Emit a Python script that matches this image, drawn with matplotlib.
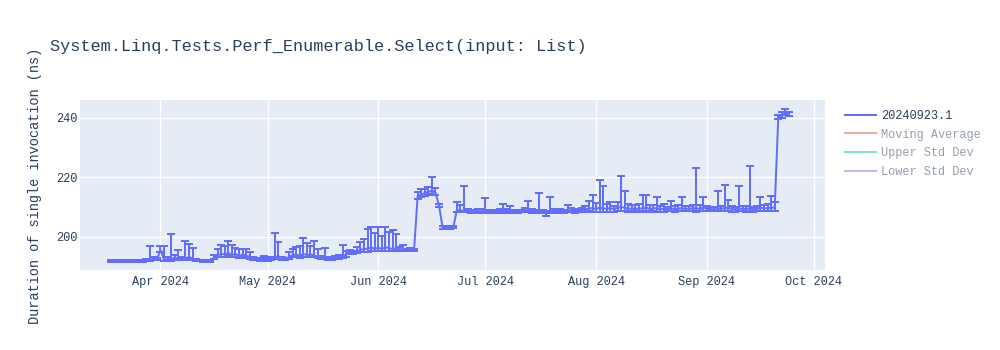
import numpy as np
import pandas as pd
import matplotlib
matplotlib.use("Agg")
import matplotlib.pyplot as plt
import matplotlib.dates as mdates
from matplotlib.lines import Line2D

# benchmark run, one point per day starting at first_day
first_day = "2024-03-18"
duration = [191.8, 191.9, 191.8, 191.7, 191.9, 191.8, 191.9, 192.0, 191.8, 191.9,
            192.0, 192.2, 192.6, 192.3, 195.5, 192.2, 192.5, 192.4, 193.0, 192.6,
            192.5, 192.7, 193.2, 192.6, 192.1, 192.0, 191.9, 192.0, 191.8, 193.0,
            193.8, 194.2, 194.0, 194.5, 193.8, 194.2, 193.5, 194.0, 193.6, 193.2,
            192.5, 192.3, 192.2, 192.4, 192.3, 192.5, 193.0, 193.5, 192.6, 192.5,
            193.2, 193.8, 194.0, 193.5, 194.2, 193.8, 194.0, 193.7, 193.3, 192.8,
            193.0, 192.7, 192.6, 192.8, 193.0, 193.5, 194.0, 194.8, 194.6, 195.0,
            195.6, 195.8, 196.0, 196.4, 195.9, 196.3, 195.8, 196.5, 196.1, 195.9,
            196.0, 195.6, 195.8, 195.5, 195.6, 195.4, 213.5, 214.2, 214.6, 215.0,
            215.5, 214.8, 210.5, 203.0, 202.9, 203.0, 203.2, 209.0, 208.8, 208.7,
            208.6, 208.5, 208.4, 208.6, 208.5, 208.7, 208.5, 208.4, 208.5, 208.6,
            208.8, 208.5, 208.7, 208.4, 208.5, 208.6, 208.7, 209.0, 208.6, 208.5,
            208.6, 208.4, 208.0, 208.5, 208.6, 208.5, 208.7, 208.5, 208.9, 208.7,
            208.6, 208.8, 208.9, 209.2, 209.5, 209.6, 209.3, 209.8, 209.5, 209.4,
            209.6, 209.2, 209.8, 210.0, 209.7, 209.4, 209.5, 209.3, 209.6, 209.4,
            209.8, 209.3, 209.5, 209.6, 209.2, 209.4, 209.3, 209.5, 209.2, 209.4,
            209.6, 209.3, 209.5, 209.4, 209.6, 209.3, 209.8, 209.4, 209.3, 209.2,
            209.5, 209.4, 209.6, 209.8, 209.3, 209.2, 209.5, 209.4, 209.3, 209.6,
            209.2, 209.4, 209.8, 209.5, 209.6, 209.8, 209.7, 240.2, 240.8, 241.5,
            241.2]
err_up = [0.3, 0.3, 0.3, 0.3, 0.3, 0.3, 0.3, 0.3, 0.3, 0.3,
          0.4, 4.8, 0.6, 0.5, 1.2, 4.8, 0.6, 8.4, 1.0, 2.9,
          0.5, 6.0, 4.3, 3.7, 0.3, 0.3, 0.3, 0.3, 0.3, 1.0,
          2.2, 3.0, 2.8, 4.2, 3.5, 2.0, 2.5, 1.8, 2.2, 1.5,
          0.5, 0.4, 0.5, 1.0, 0.6, 0.5, 8.4, 4.8, 0.4, 0.4,
          1.5, 2.0, 2.5, 3.5, 5.5, 4.0, 3.0, 5.0, 2.5, 0.8,
          3.3, 0.5, 0.4, 0.6, 0.8, 3.8, 1.2, 0.6, 0.5, 1.5,
          2.5, 3.5, 6.5, 6.8, 5.5, 6.9, 4.5, 6.9, 5.5, 6.5,
          5.0, 1.0, 1.5, 0.5, 0.5, 0.4, 1.5, 1.8, 1.5, 1.8,
          4.5, 1.5, 0.6, 0.5, 0.4, 0.5, 0.5, 2.5, 2.0, 8.2,
          0.6, 0.5, 0.5, 0.6, 0.8, 4.3, 0.6, 0.5, 0.5, 0.8,
          2.3, 0.7, 1.7, 0.5, 0.6, 0.5, 1.0, 3.1, 0.8, 0.5,
          6.2, 0.5, 0.5, 4.7, 0.6, 0.5, 0.7, 0.6, 1.9, 0.8,
          0.7, 0.6, 0.8, 1.2, 2.5, 4.5, 2.0, 9.3, 7.6, 1.5,
          2.0, 1.2, 1.7, 10.4, 5.8, 1.5, 1.0, 1.2, 1.5, 4.6,
          4.3, 1.2, 1.0, 3.8, 1.0, 1.5, 0.8, 2.6, 1.0, 1.2,
          3.6, 1.0, 0.8, 1.2, 13.5, 1.5, 3.6, 1.0, 0.8, 0.7,
          6.0, 1.0, 7.8, 2.5, 1.0, 0.8, 7.4, 0.8, 1.0, 14.0,
          0.8, 1.0, 3.6, 1.2, 1.5, 4.0, 1.8, 0.8, 1.0, 1.4,
          0.8]
err_down = [0.3, 0.3, 0.3, 0.3, 0.3, 0.3, 0.3, 0.3, 0.3, 0.3,
            0.3, 0.4, 0.5, 0.3, 0.8, 0.4, 0.4, 0.5, 0.6, 0.4,
            0.4, 0.5, 0.6, 0.4, 0.3, 0.3, 0.3, 0.3, 0.3, 0.5,
            0.8, 1.0, 0.9, 1.1, 0.7, 0.9, 0.6, 0.8, 0.7, 0.6,
            0.4, 0.3, 0.3, 0.5, 0.4, 0.4, 0.6, 0.7, 0.4, 0.3,
            0.6, 0.8, 0.9, 0.7, 1.0, 0.8, 0.9, 0.7, 0.6, 0.4,
            0.5, 0.4, 0.3, 0.4, 0.5, 0.6, 0.7, 0.5, 0.4, 0.6,
            0.8, 0.9, 1.0, 1.2, 0.8, 1.1, 0.7, 1.2, 0.9, 0.8,
            0.8, 0.4, 0.5, 0.3, 0.4, 0.3, 0.8, 1.0, 0.9, 1.1,
            1.0, 0.8, 0.5, 0.4, 0.3, 0.4, 0.4, 0.8, 0.6, 0.5,
            0.4, 0.4, 0.3, 0.4, 0.5, 0.6, 0.4, 0.3, 0.4, 0.5,
            0.6, 0.4, 0.5, 0.4, 0.4, 0.3, 0.5, 0.7, 0.5, 0.4,
            0.5, 0.4, 1.0, 0.6, 0.5, 0.4, 0.5, 0.4, 0.6, 0.5,
            0.5, 0.6, 0.7, 0.8, 1.0, 1.2, 1.0, 1.5, 1.3, 1.0,
            1.2, 0.9, 1.3, 1.5, 1.2, 1.0, 0.8, 0.9, 1.1, 1.0,
            1.2, 0.9, 1.0, 1.3, 0.8, 1.0, 0.7, 1.0, 0.8, 0.9,
            1.1, 0.8, 1.0, 0.9, 1.2, 0.8, 1.3, 0.9, 0.8, 0.7,
            1.0, 0.9, 1.1, 1.2, 0.9, 0.8, 1.0, 0.8, 0.9, 1.0,
            0.8, 0.9, 1.2, 1.0, 1.1, 1.3, 1.2, 0.6, 0.8, 0.7,
            0.6]

legend_names = ['20240923.1', 'Moving Average', 'Upper Std Dev', 'Lower Std Dev']
legend_colors = ['#636efa', '#EF553B', '#00cc96', '#ab63fa']
title = "System.Linq.Tests.Perf_Enumerable.Select(input: List)"
ylabel = "Duration of single invocation (ns)"

font = ['Liberation Mono', 'DejaVu Sans Mono']
txt_color = '#2a3f5f'
plt.rcParams['font.family'] = font

dates = pd.date_range(first_day, periods=len(duration), freq="D")

fig = plt.figure(figsize=(10, 3.5), dpi=100)
ax = fig.add_axes([0.08, 0.2286, 0.745, 0.4857])
ax.set_facecolor('#E5ECF6')
for s in ax.spines.values():
    s.set_visible(False)

ax.errorbar(dates, duration, yerr=[err_down, err_up], color=legend_colors[0],
            lw=1.44, elinewidth=1.44, capsize=2.9, capthick=1.44, zorder=3)

ax.set_xlim(pd.Timestamp("2024-03-09 11:00"), pd.Timestamp("2024-10-04 02:00"))
ax.set_ylim(188.8, 245.95)
ax.set_yticks([200, 220, 240])
ax.xaxis.set_major_locator(mdates.MonthLocator())
ax.xaxis.set_major_formatter(mdates.DateFormatter('%b %Y'))
ax.grid(True, color='white', lw=1, zorder=0)
ax.set_axisbelow(True)
ax.tick_params(length=0, labelsize=8.6, labelcolor=txt_color)
ax.tick_params(axis='x', pad=4)
ax.tick_params(axis='y', pad=2)

fig.text(0.05, 1 - 46 / 350, title, fontsize=12.2, color=txt_color, va='center', ha='left')
fig.text(0.035, 1 - 186 / 350, ylabel, fontsize=9.8, color=txt_color,
         rotation=90, va='center', ha='center')

handles = [Line2D([], [], color=c, lw=1.44, alpha=1.0 if i == 0 else 0.5)
           for i, c in enumerate(legend_colors)]
leg = fig.legend(handles, legend_names, loc='upper left', bbox_to_anchor=(0.845, 1 - 110 / 350),
                 frameon=False, fontsize=8.6, handlelength=2.6, handletextpad=0.45,
                 labelspacing=0.55, borderaxespad=0, borderpad=0)
for i, t in enumerate(leg.get_texts()):
    t.set_color(txt_color)
    if i > 0:
        t.set_alpha(0.5)

fig.savefig('out.png', dpi=100)
